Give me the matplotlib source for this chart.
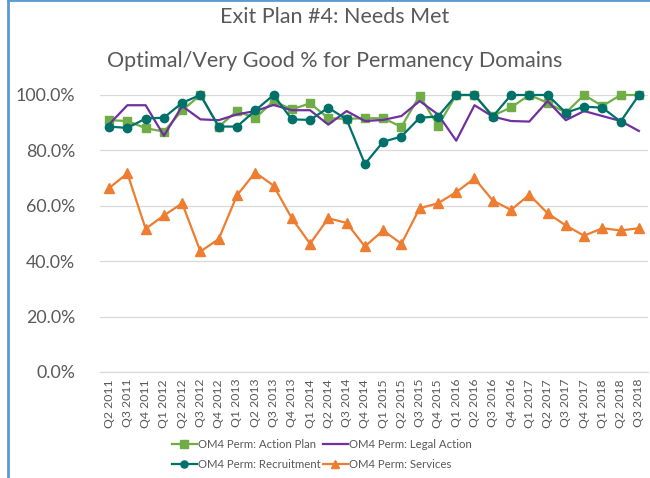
import numpy as np
import matplotlib.pyplot as plt
from matplotlib.lines import Line2D

plt.rcParams['font.family'] = ['Lato', 'DejaVu Sans']

quarters = ['Q2 2011', 'Q3 2011', 'Q4 2011',
            'Q1 2012', 'Q2 2012', 'Q3 2012', 'Q4 2012',
            'Q1 2013', 'Q2 2013', 'Q3 2013', 'Q4 2013',
            'Q1 2014', 'Q2 2014', 'Q3 2014', 'Q4 2014',
            'Q1 2015', 'Q2 2015', 'Q3 2015', 'Q4 2015',
            'Q1 2016', 'Q2 2016', 'Q3 2016', 'Q4 2016',
            'Q1 2017', 'Q2 2017', 'Q3 2017', 'Q4 2017',
            'Q1 2018', 'Q2 2018', 'Q3 2018']

action_plan = [90.9, 90.6, 88.0, 86.8, 94.4, 100.0, 88.6, 94.2, 91.6, 97.8,
               94.8, 97.0, 91.6, 91.4, 91.6, 91.6, 88.5, 99.8, 88.8, 100.0,
               100.0, 92.5, 95.5, 100.0, 97.2, 93.6, 100.0, 96.0, 100.0, 100.0]

legal_action = [89.4, 96.3, 96.3, 85.3, 96.0, 91.2, 90.9, 93.0, 94.2, 96.4,
                94.5, 94.5, 89.3, 94.2, 90.6, 91.0, 92.4, 97.8, 93.0, 83.5,
                96.3, 92.2, 90.6, 90.4, 97.8, 90.9, 94.2, 92.4, 90.6, 87.0]

recruitment = [88.6, 88.1, 91.5, 91.8, 97.2, 100.0, 88.6, 88.6, 94.4, 100.0,
               91.2, 91.0, 95.4, 91.2, 75.1, 83.1, 85.0, 91.8, 92.2, 100.0,
               100.0, 92.2, 100.0, 100.0, 100.0, 93.6, 95.8, 95.4, 90.4, 100.0]

services = [66.4, 71.7, 51.7, 56.5, 60.9, 43.5, 48.0, 63.8, 72.0, 67.3,
            55.5, 46.3, 55.5, 53.8, 45.3, 51.1, 46.3, 59.1, 60.9, 64.9,
            69.9, 61.9, 58.5, 64.0, 57.3, 52.9, 49.2, 51.9, 51.1, 51.9]

labels = ['OM4 Perm: Action Plan', 'OM4 Perm: Legal Action',
          'OM4 Perm: Recruitment', 'OM4 Perm: Services']

green = '#70AD47'
purple = '#7030A0'
teal = '#00706B'
orange = '#ED7D31'
text_gray = '#595959'

fig = plt.figure(figsize=(6.5, 4.78), dpi=100)
ax = fig.add_axes([0.1538, 0.2218, 0.8432, 0.5795])

x = np.arange(len(quarters))
lw = 1.6
h1, = ax.plot(x, np.array(action_plan) / 100, color=green, lw=lw, marker='s',
              markersize=6, clip_on=False, zorder=3)
h2, = ax.plot(x, np.array(legal_action) / 100, color=purple, lw=lw,
              clip_on=False, zorder=4)
h3, = ax.plot(x, np.array(recruitment) / 100, color=teal, lw=lw, marker='o',
              markersize=6, clip_on=False, zorder=5)
h4, = ax.plot(x, np.array(services) / 100, color=orange, lw=lw, marker='^',
              markersize=7, clip_on=False, zorder=6)

ax.set_xlim(-0.5, len(quarters) - 0.5)
ax.set_ylim(0, 1.0)
ax.set_yticks(np.arange(0, 1.01, 0.2))
ax.set_yticklabels([f'{v * 100:.1f}%' for v in np.arange(0, 1.01, 0.2)])
ax.set_xticks(x)
ax.set_xticklabels(quarters, rotation=90)
ax.tick_params(axis='y', length=0, labelsize=12.8, labelcolor=text_gray, pad=18)
ax.tick_params(axis='x', length=0, labelsize=8.8, labelcolor=text_gray, pad=5)
ax.grid(axis='y', color='#D9D9D9', lw=0.9)
ax.set_axisbelow(True)
for s in ['top', 'right', 'left']:
    ax.spines[s].set_visible(False)
ax.spines['bottom'].set_color('#D9D9D9')
ax.spines['bottom'].set_linewidth(0.9)

fig.text(0.515, 0.965, 'Exit Plan #4: Needs Met', ha='center', va='center',
         fontsize=15.5, color=text_gray)
fig.text(0.515, 0.873, 'Optimal/Very Good % for Permanency Domains',
         ha='center', va='center', fontsize=15.5, color=text_gray)

leg = fig.legend([h1, h3, h2, h4], [labels[0], labels[2], labels[1], labels[3]],
                 ncol=2, loc='center', bbox_to_anchor=(0.495, 0.049),
                 frameon=False, fontsize=8.2, handlelength=2.2,
                 handletextpad=0.1, columnspacing=0.2, labelspacing=0.85,
                 markerscale=0.85)
for t in leg.get_texts():
    t.set_color(text_gray)

# blue frame from the screenshot
fig.add_artist(Line2D([8 / 650, 8 / 650], [0, 0.999], color='#5B9BD5', lw=2))
fig.add_artist(Line2D([8 / 650, 1], [0.999, 0.999], color='#5B9BD5', lw=2))

fig.savefig('out.png', dpi=100)
